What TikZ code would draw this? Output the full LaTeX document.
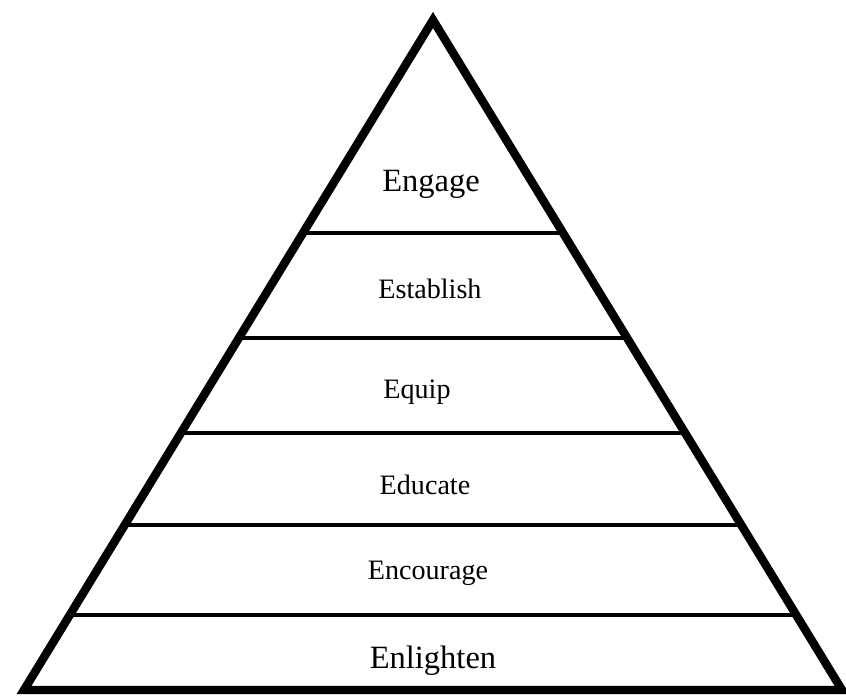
\documentclass[tikz,border=0pt]{standalone}
\usepackage{fontspec}
\setmainfont{Liberation Serif}
\usepackage{tikz}
\usetikzlibrary{calc}

\begin{document}
\begin{tikzpicture}[x=0.02cm, y=-0.02cm,
        side/.style={line width=4.8pt, line join=miter},
        level/.style={line width=2.6pt},
        tier/.style={anchor=base, inner sep=0pt, font=\fontsize{16}{18}\selectfont},
        bigtier/.style={tier, font=\fontsize{18.5}{20}\selectfont}]
        \useasboundingbox (0,0) rectangle (846,696);
        \coordinate (top) at (433,20);
        \coordinate (bl) at (24,690);
        \coordinate (br) at (842,690);

        % tier boundaries
        \foreach \t in {0.3179,0.4746,0.6164,0.7537,0.8881}
            \draw[level] ($(top)!\t!(bl)$) -- ($(top)!\t!(br)$);
        \draw[side] (top) -- (br) -- (bl) -- cycle;

        \node[bigtier] (engage) at (431,192) {Engage};
        \node[tier] (establish) at (430,298) {Establish};
        \node[tier] (equip) at (417,398) {Equip};
        \node[tier] (educate) at (425,494) {Educate};
        \node[tier] (encourage) at (428,579) {Encourage};
        \node[bigtier] (enlighten) at (433,668) {Enlighten};
    \end{tikzpicture}
\end{document}
